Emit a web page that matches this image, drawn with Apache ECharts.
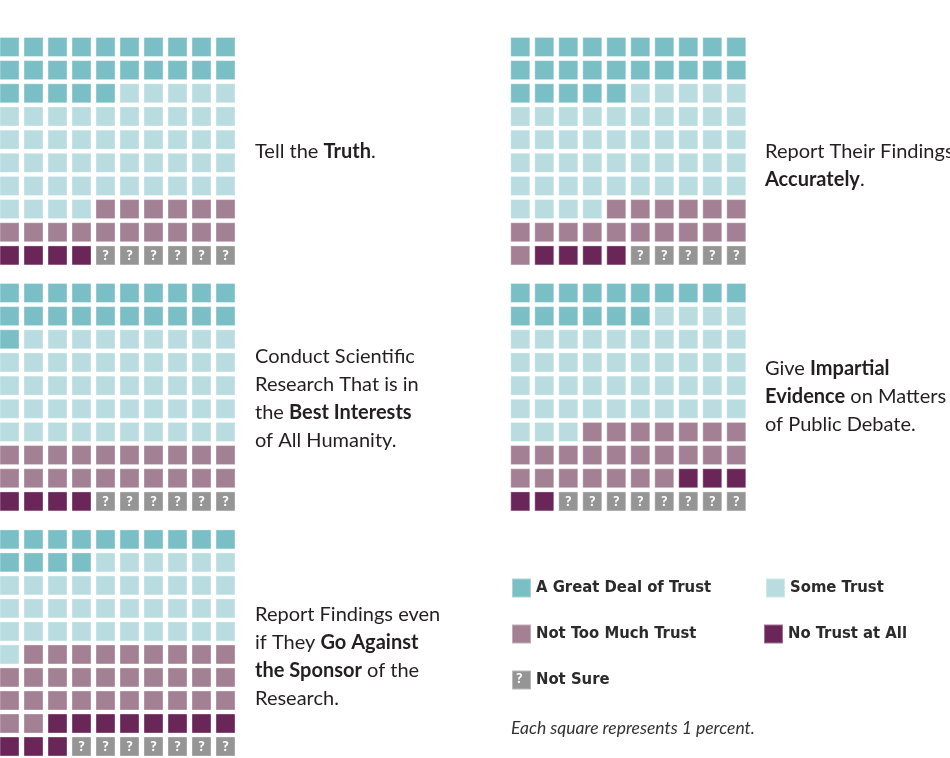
<!DOCTYPE html>
<html>
<head>
<meta charset="utf-8">
<script src="https://cdn.jsdelivr.net/npm/echarts@6/dist/echarts.min.js"></script>
<style>
html,body{margin:0;padding:0;background:#fff;}
#chart{width:950px;height:758px;}
</style>
</head>
<body>
<div id="chart"></div>
<script>
// Response categories (legend order)
const categories = ['A Great Deal of Trust', 'Some Trust', 'Not Too Much Trust', 'No Trust at All', 'Not Sure'];
const colors = ['#7bbfc6', '#b8dcdf', '#a38093', '#6b2659', '#959595'];

// Counts per waffle (each square = 1 percent), in category order
const tellTruth        = [25, 49, 16, 4, 6];
const reportAccurately = [25, 49, 17, 4, 5];
const bestInterests    = [21, 49, 20, 4, 6];
const impartialEvidence= [16, 47, 24, 5, 8];
const goAgainstSponsor = [14, 37, 31, 11, 7];

// Statement labels (rich-text: {b|...} is bold)
const statementTruth = '{n|Tell the }{b|Truth}{n|.}';
const statementAccurate = '{n|Report Their Findings}\n{b|Accurately}{n|.}';
const statementBest = '{n|Conduct Scientific}\n{n|Research That is in}\n{n|the }{b|Best Interests}\n{n|of All Humanity.}';
const statementImpartial = '{n|Give }{b|Impartial}\n{b|Evidence}{n| on Matters}\n{n|of Public Debate.}';
const statementSponsor = '{n|Report Findings even}\n{n|if They }{b|Go Against}\n{b|the Sponsor}{n| of the}\n{n|Research.}';

const footnote = 'Each square represents 1 percent.';

// left column grids start slightly clipped at the page edge
const waffles = [
  {counts: tellTruth,         text: statementTruth,     left: 0,     clip: 2.5, top: 35.4,  tx: 255, ty: 138},
  {counts: reportAccurately,  text: statementAccurate,  left: 508.3, clip: 0,   top: 35.4,  tx: 765, ty: 138},
  {counts: bestInterests,     text: statementBest,      left: 0,     clip: 2.5, top: 281.4, tx: 255, ty: 343},
  {counts: impartialEvidence, text: statementImpartial, left: 508.3, clip: 0,   top: 281.4, tx: 765, ty: 355},
  {counts: goAgainstSponsor,  text: statementSponsor,   left: 0,     clip: 2.5, top: 527.9, tx: 255, ty: 601}
];

const grids = [], xAxes = [], yAxes = [], series = [], titles = [];
const richText = {
  n: {fontFamily: 'Lato', fontSize: 20, fontWeight: 400, color: '#231f20', lineHeight: 28},
  b: {fontFamily: 'Lato', fontSize: 20, fontWeight: 700, color: '#231f20', lineHeight: 28}
};

waffles.forEach((w, wi) => {
  grids.push({left: w.left, top: w.top, width: 240 - w.clip, height: 231.6, containLabel: false});
  xAxes.push({type: 'value', gridIndex: wi, min: -0.5 + w.clip / 24, max: 9.5, show: false});
  yAxes.push({type: 'value', gridIndex: wi, min: -0.5, max: 9.5, inverse: true, show: false});
  let idx = 0;
  w.counts.forEach((cnt, ci) => {
    const data = [];
    for (let k = 0; k < cnt; k++, idx++) data.push([idx % 10, Math.floor(idx / 10)]);
    series.push({
      type: 'scatter',
      name: categories[ci],
      xAxisIndex: wi, yAxisIndex: wi,
      symbol: 'rect',
      symbolSize: [19, 19],
      silent: true,
      clip: false,
      itemStyle: {color: colors[ci], opacity: 1, borderColor: 'rgba(255,255,255,0.35)', borderWidth: 1},
      label: ci === 4 ? {show: true, position: 'inside', formatter: '?', color: '#fff',
        fontFamily: 'Lato', fontWeight: 900, fontSize: 14} : {show: false},
      emphasis: {disabled: true},
      data: data
    });
  });
  titles.push({text: w.text, left: w.tx, top: w.ty, padding: 0,
    textStyle: {rich: richText, fontFamily: 'Lato', fontSize: 20, lineHeight: 28}});
});

titles.push({text: footnote, left: 511, top: 719, padding: 0,
  textStyle: {fontFamily: 'Lato', fontStyle: 'italic', fontWeight: 400, fontSize: 17.5, color: '#333'}});

const legendPos = [[511, 577.5], [765, 577.5], [511, 623.5], [763, 623.5], [511, 669.5]];
const legends = categories.map((c, i) => ({
  data: [{name: c, itemStyle: {color: colors[i]}}],
  left: legendPos[i][0], top: legendPos[i][1],
  padding: 0, itemWidth: 19, itemHeight: 19, icon: 'rect', selectedMode: false,
  textStyle: {fontFamily: "'DejaVu Sans Condensed', 'DejaVu Sans', sans-serif", fontWeight: 700, fontSize: 16.5, color: '#2b2b2b'}
}));

const chart = echarts.init(document.getElementById('chart'), null, {renderer: 'canvas'});
chart.setOption({
  animation: false,
  backgroundColor: '#fff',
  title: titles,
  legend: legends,
  grid: grids,
  xAxis: xAxes,
  yAxis: yAxes,
  series: series,
  graphic: [{
    type: 'text', left: 516, top: 671, z: 1000, zlevel: 1, silent: true,
    style: {text: '?', fill: '#ffffff', font: '900 14px Lato'}
  }]
});
</script>
</body>
</html>
